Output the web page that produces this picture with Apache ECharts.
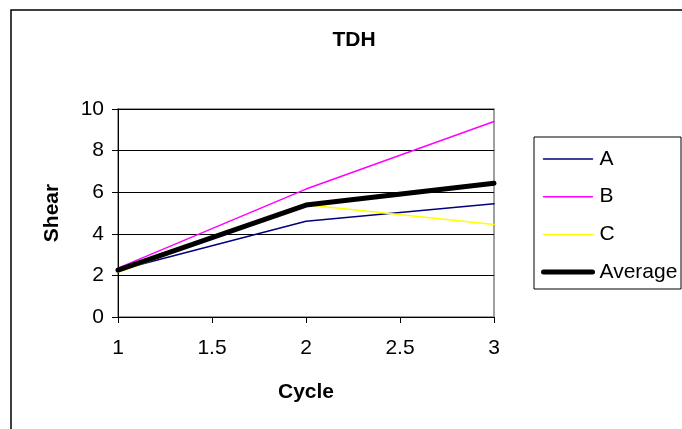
<!DOCTYPE html>
<html>
<head>
<meta charset="utf-8">
<script src="https://cdn.jsdelivr.net/npm/echarts@6/dist/echarts.min.js"></script>
<style>
  html, body { margin: 0; padding: 0; background: #fff; }
  #chart { width: 682px; height: 429px; }
</style>
</head>
<body>
<div id="chart"></div>
<script>
// Shear per cycle for three specimens and their average
const cycles = [1, 2, 3];
const seriesA = [2.25, 4.6, 5.45];
const seriesB = [2.35, 6.15, 9.4];
const seriesC = [2.15, 5.4, 4.45];
const seriesAvg = [2.25, 5.38, 6.43];
const seriesNames = ['A', 'B', 'C', 'Average'];

const FONT = '"Liberation Sans", Arial, sans-serif';
const FS = 21;

function pairs(values) {
  return cycles.map((c, i) => [c, values[i]]);
}

function lineSeries(name, values, color, width) {
  return {
    name: name,
    type: 'line',
    data: pairs(values),
    symbol: 'none',
    showSymbol: false,
    silent: true,
    animation: false,
    lineStyle: { color: color, width: width, cap: 'round', join: 'round' },
    itemStyle: { color: 'rgba(0,0,0,0)', borderWidth: 0 }
  };
}

function legendItem(name, width) {
  return {
    name: name,
    itemStyle: { opacity: 0 },
    lineStyle: { width: width, cap: 'round' }
  };
}

const legendWidths = [1.5, 1.5, 1.5, 5];

const chart = echarts.init(document.getElementById('chart'), null, { renderer: 'canvas' });

chart.setOption({
  backgroundColor: '#ffffff',
  animation: false,
  title: {
    text: 'TDH',
    left: 349,
    textAlign: 'center',
    top: 25,
    textStyle: { fontFamily: FONT, fontSize: FS, fontWeight: 'bold', color: '#000' }
  },
  graphic: [
    {
      type: 'rect',
      shape: { x: 11, y: 10, width: 700, height: 460 },
      style: { fill: 'none', stroke: '#000', lineWidth: 1.5 },
      z: -1
    },
    {
      type: 'rect',
      shape: { x: 534, y: 137, width: 147, height: 152 },
      style: { fill: '#fff', stroke: '#000', lineWidth: 1 },
      z: 0
    }
  ],
  legend: {
    orient: 'vertical',
    left: 541,
    top: 148.5,
    padding: 0,
    itemWidth: 49,
    itemHeight: 21,
    itemGap: 16.7,
    data: seriesNames.map((n, i) => legendItem(n, legendWidths[i])),
    textStyle: { fontFamily: FONT, fontSize: FS, color: '#000', padding: [0, 0, 0, 2] },
    z: 5
  },
  grid: {
    left: 118,
    top: 109,
    right: 188,
    bottom: 112,
    show: true,
    borderColor: '#808080',
    borderWidth: 1.5,
    backgroundColor: '#fff'
  },
  xAxis: {
    type: 'value',
    min: 1,
    max: 3,
    interval: 0.5,
    name: 'Cycle',
    nameLocation: 'middle',
    nameGap: 65,
    nameTextStyle: { fontFamily: FONT, fontSize: FS, fontWeight: 'bold', color: '#000' },
    axisLine: { show: true, lineStyle: { color: '#000', width: 1 } },
    axisTick: { show: true, length: 6, lineStyle: { color: '#000' } },
    axisLabel: { fontFamily: FONT, fontSize: FS, color: '#000', margin: 21 },
    splitLine: { show: false }
  },
  yAxis: {
    type: 'value',
    min: 0,
    max: 10,
    interval: 2,
    name: 'Shear',
    nameLocation: 'middle',
    nameGap: 55,
    nameTextStyle: { fontFamily: FONT, fontSize: FS, fontWeight: 'bold', color: '#000' },
    axisLine: { show: true, lineStyle: { color: '#000', width: 1 } },
    axisTick: { show: true, length: 6, lineStyle: { color: '#000' } },
    axisLabel: { fontFamily: FONT, fontSize: FS, color: '#000', margin: 14 },
    splitLine: { show: true, lineStyle: { color: '#000', width: 1 } }
  },
  series: [
    lineSeries('A', seriesA, '#000080', 1.5),
    lineSeries('B', seriesB, '#ff00ff', 1.5),
    lineSeries('C', seriesC, '#ffff00', 1.5),
    lineSeries('Average', seriesAvg, '#000000', 5)
  ]
});
</script>
</body>
</html>
